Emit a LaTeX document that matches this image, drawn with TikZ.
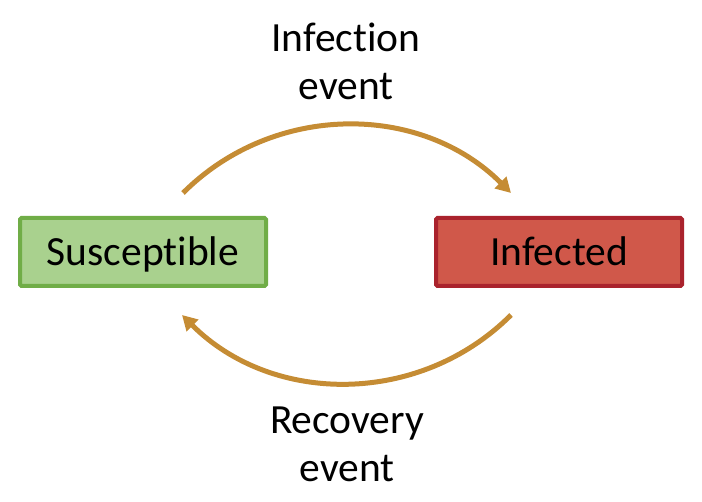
\documentclass[tikz,border=0pt]{standalone}
\usepackage{fontspec}
\setmainfont[Ligatures={NoCommon,NoRare,NoContextual}]{Carlito}
\usetikzlibrary{arrows.meta}
\definecolor{sgreen}{RGB}{169,209,142}
\definecolor{sgreenb}{RGB}{112,173,71}
\definecolor{ired}{RGB}{208,88,74}
\definecolor{iredb}{RGB}{170,35,45}
\definecolor{arc}{RGB}{197,140,52}
\tikzset{
  statebox/.style={draw, line width=4pt, rounded corners=1.5pt, minimum width=246pt, minimum height=68pt, inner sep=0pt, text height=27.5pt, text depth=0pt, font=\fontsize{41.5}{48}\selectfont},
  lbl/.style={align=center, font=\fontsize{41.5}{48}\selectfont, inner sep=0pt},
  flow/.style={draw=arc, line width=5pt, -{Triangle[length=15pt,width=16pt]}}
}
\begin{document}
\begin{tikzpicture}[x=1pt,y=1pt]
\useasboundingbox (0,0) rectangle (702,502);
\node[statebox, fill=sgreen, draw=sgreenb] (sus) at (143,250) {Susceptible};
\node[statebox, fill=ired, draw=iredb] (inf) at (559,250) {Infected};
\coordinate (s1) at (183,309);
\coordinate (e1) at (511,309);
\coordinate (s2) at (511,187);
\coordinate (e2) at (182,187);
\draw[flow] (s1) to[out=45,in=135] (e1);
\draw[flow] (s2) to[out=-135,in=-45] (e2);
\node[lbl] (l1) at (346,441) {Infection\\event};
\node[lbl] (l2) at (347,58) {Recovery\\event};
\end{tikzpicture}
\end{document}
